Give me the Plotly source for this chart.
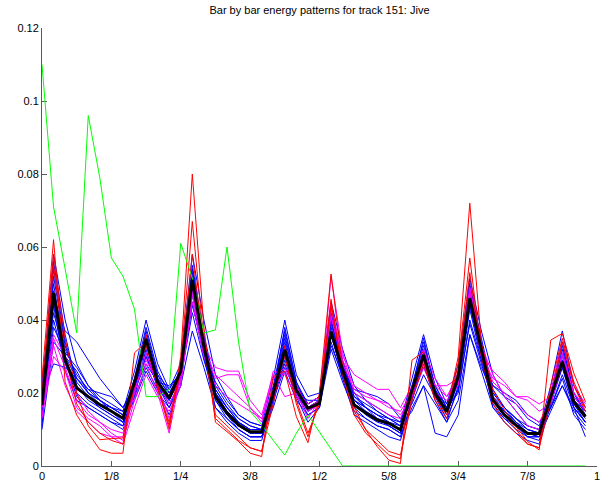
import plotly.graph_objects as go

# ---------------- data (48 sub-beat positions per bar) ----------------
n_steps = 48
x_tick_vals = [0, 0.125, 0.25, 0.375, 0.5, 0.625, 0.75, 0.875, 1]
x_tick_text = ["0", "1/8", "1/4", "3/8", "1/2", "5/8", "3/4", "7/8", "1"]
y_tick_vals = [0, 0.02, 0.04, 0.06, 0.08, 0.1, 0.12]
y_tick_text = ["0", "0.02", "0.04", "0.06", "0.08", "0.1", "0.12"]

blue_bars = [
    [.020,.058,.040,.028,.022,.019,.017,.015, .026,.040,.028,.021,.028,.058,.040,.025, .019,.014,.012,.011,.024,.040,.025,.019, .020,.045,.032,.022,.018,.015,.013,.012, .024,.036,.024,.017,.028,.0514,.037,.025, .019,.015,.011,.010,.022,.037,.022,.016],
    [.015,.052,.033,.024,.020,.018,.016,.014, .024,.038,.026,.020,.026,.055,.036,.022, .017,.013,.011,.010,.022,.037,.023,.017, .019,.042,.029,.019,.016,.014,.012,.010, .022,.034,.022,.016,.026,.049,.035,.021, .016,.013,.010,.009,.020,.033,.020,.015],
    [.012,.046,.037,.034,.029,.024,.020,.016, .022,.030,.022,.016,.024,.048,.031,.018, .014,.011,.009,.009,.019,.030,.020,.015, .017,.036,.025,.017,.015,.013,.012,.010, .019,.029,.019,.014,.023,.044,.030,.018, .015,.012,.009,.009,.018,.027,.017,.012],
    [.010,.034,.030,.026,.020,.017,.015,.012, .018,.026,.020,.016,.022,.037,.027,.016, .013,.010,.008,.008,.016,.026,.018,.014, .016,.032,.023,.015,.013,.011,.010,.008, .016,.022,.017,.012,.018,.036,.026,.016, .013,.011,.008,.008,.015,.022,.015,.011],
    [.018,.056,.036,.022,.018,.016,.014,.012, .022,.036,.024,.018,.025,.054,.035,.020, .015,.011,.009,.009,.020,.034,.021,.016, .018,.040,.028,.018,.015,.013,.011,.009, .020,.032,.020,.015,.025,.048,.033,.019, .015,.012,.009,.008,.019,.031,.018,.014],
    [.022,.050,.030,.020,.017,.015,.013,.011, .021,.034,.023,.019,.026,.052,.034,.019, .014,.010,.008,.008,.019,.033,.021,.015, .017,.038,.026,.017,.014,.012,.011,.009, .021,.031,.021,.016,.024,.047,.032,.018, .014,.011,.008,.008,.019,.029,.017,.013],
    [.013,.044,.026,.018,.016,.014,.012,.010, .019,.032,.021,.014,.022,.050,.030,.016, .012,.009,.007,.007,.018,.032,.019,.012, .016,.037,.024,.014,.012,.010,.008,.007, .018,.028,.018,.012,.022,.045,.030,.016, .012,.009,.007,.006,.017,.029,.016,.012],
    [.016,.040,.028,.021,.019,.017,.016,.014, .020,.030,.022,.018,.025,.045,.030,.020, .016,.013,.011,.010,.019,.028,.019,.016, .017,.034,.024,.018,.016,.014,.013,.011, .015,.022,.009,.008,.014,.036,.027,.020, .016,.013,.011,.010,.016,.024,.014,.010],
    [.020,.048,.032,.025,.021,.018,.016,.014, .023,.035,.025,.021,.026,.050,.033,.021, .016,.012,.010,.010,.021,.036,.022,.017, .019,.040,.027,.020,.018,.016,.014,.012, .022,.030,.020,.017,.024,.046,.031,.022, .019,.017,.013,.011,.019,.030,.018,.015],
    [.011,.054,.034,.023,.019,.016,.014,.012, .023,.037,.025,.019,.027,.053,.035,.021, .016,.012,.009,.009,.020,.038,.023,.016, .018,.041,.028,.020,.016,.013,.011,.009, .021,.035,.021,.015,.025,.050,.034,.020, .016,.012,.009,.008,.020,.034,.020,.014],
    [.017,.042,.030,.024,.021,.020,.019,.016, .021,.028,.023,.022,.025,.044,.032,.023, .018,.014,.012,.011,.018,.027,.020,.018, .018,.033,.025,.021,.020,.019,.017,.013, .017,.025,.019,.016,.020,.040,.029,.022, .020,.018,.014,.012,.016,.022,.016,.012],
    [.024,.045,.029,.019,.016,.014,.012,.011, .020,.031,.022,.017,.023,.047,.031,.018, .013,.010,.008,.008,.017,.031,.020,.014, .016,.036,.025,.016,.013,.011,.010,.008, .018,.030,.019,.013,.021,.043,.029,.017, .013,.010,.008,.007,.017,.027,.016,.008],
    [.014,.038,.031,.027,.022,.018,.015,.013, .021,.033,.024,.020,.025,.049,.032,.020, .015,.012,.010,.010,.020,.035,.022,.017, .019,.039,.027,.019,.017,.015,.013,.011, .021,.033,.022,.016,.024,.048,.033,.019, .016,.013,.010,.009,.018,.032,.019,.015],
    [.019,.028,.027,.024,.020,.018,.016,.015, .019,.027,.021,.018,.024,.042,.029,.019, .015,.012,.010,.010,.018,.029,.020,.016, .018,.036,.026,.018,.016,.014,.012,.011, .019,.027,.020,.015,.021,.039,.028,.018, .015,.012,.010,.009,.016,.025,.016,.012],
]

magenta_bars = [
    [.016,.036,.030,.020,.015,.012,.009,.007, .018,.028,.020,.009,.025,.048,.033,.027, .026,.026,.018,.014,.025,.019,.020,.013, .018,.044,.030,.025,.023,.021,.021,.016, .022,.028,.022,.022,.024,.048,.031,.026, .023,.019,.019,.017,.019,.030,.020,.016],
    [.014,.030,.026,.016,.013,.011,.008,.006, .016,.025,.019,.015,.022,.047,.031,.024, .025,.025,.016,.013,.021,.026,.022,.016, .018,.041,.028,.021,.019,.018,.017,.014, .019,.027,.020,.018,.022,.046,.030,.024, .022,.019,.018,.015,.017,.028,.019,.015],
    [.016,.033,.022,.015,.012,.009,.008,.008, .020,.031,.022,.013,.024,.049,.032,.025, .022,.019,.016,.012,.026,.025,.019,.015, .017,.052,.031,.020,.018,.016,.014,.013, .021,.030,.022,.019,.025,.049,.033,.025, .019,.015,.011,.010,.020,.034,.022,.017],
    [.013,.035,.027,.018,.014,.012,.010,.009, .021,.029,.023,.017,.023,.045,.030,.022, .019,.017,.015,.013,.024,.027,.021,.017, .019,.043,.029,.022,.020,.018,.016,.015, .020,.032,.024,.019,.023,.047,.032,.023, .020,.017,.014,.012,.018,.031,.020,.016],
]

red_bars = [
    [.024,.062,.023,.014,.009,.0045,.0035,.0035, .031,.034,.022,.011,.030,.080,.038,.012, .0094,.0067,.0035,.0026,.0245,.026,.0135,.0064, .020,.0526,.0272,.0162,.0099,.0053,.0016,.0007, .029,.0313,.020,.015,.030,.072,.0336,.0208, .0153,.0108,.0067,.0044,.0345,.0363,.0254,.0176],
    [.020,.058,.035,.020,.011,.0072,.0075,.0077, .024,.033,.022,.010,.028,.067,.034,.014, .011,.008,.005,.004,.020,.030,.017,.008, .018,.0457,.025,.014,.009,.006,.003,.002, .020,.029,.019,.014,.028,.057,.031,.019, .014,.010,.006,.005,.022,.035,.023,.016],
    [.018,.055,.030,.017,.012,.009,.007,.006, .022,.036,.021,.012,.026,.058,.033,.013, .010,.007,.005,.004,.017,.033,.018,.009, .017,.044,.026,.015,.010,.007,.004,.003, .018,.028,.018,.013,.026,.053,.030,.017, .012,.009,.006,.005,.018,.034,.022,.015],
]

green_bar = [.110,.071,.054,.0365,.096,.079,.057,.052, .043,.019,.019,.021,.061,.0515,.0364,.0373,
             .060,.034,.015,.0113,.007,.003,.009,.014, .0093,.0046,0,0,0,0,0,0,
             0,0,0,0,0,0,0,0, 0,0,0,0,0,0,0,0]

mean_bar = [.0167,.0474,.029,.0214,.019,.0168,.015,.0131, .023,.0348,.023,.0186,.026,.051,.0327,.019,
            .0145,.0112,.0094,.0094,.020,.0318,.0208,.0158, .0172,.0368,.0263,.0167,.0145,.0126,.0117,.0099,
            .0208,.0304,.0199,.0149,.0245,.046,.0318,.0181, .014,.0112,.0089,.0089,.019,.0286,.0176,.0135]


def positions(vals):
    return [i / n_steps for i in range(len(vals))]


fig = go.Figure()

def add(vals, color, width):
    fig.add_trace(go.Scatter(x=positions(vals), y=vals, mode="lines",
                             line=dict(color=color, width=width),
                             hoverinfo="skip", showlegend=False))

for v in blue_bars:
    add(v, "#0000ff", 1)
for v in magenta_bars:
    add(v, "#ff00ff", 1)
for v in red_bars:
    add(v, "#ff0000", 1)
add(green_bar, "#00ff00", 1)
add(mean_bar, "#000000", 3)

font_family = "Liberation Sans, Arial, Helvetica, sans-serif"
axis_common = dict(showgrid=False, zeroline=False, showline=True, linecolor="#5a5a5a",
                   linewidth=1, ticks="inside", ticklen=5, tickcolor="#5a5a5a",
                   tickwidth=1, mirror=False, layer="below traces", automargin=False,
                   tickfont=dict(family=font_family, size=11, color="#000000"))

fig.update_layout(
    width=604, height=483,
    margin=dict(l=42, r=7, t=28, b=17, pad=0, autoexpand=False),
    paper_bgcolor="white", plot_bgcolor="white",
    title=dict(text="Bar by bar energy patterns for track 151: Jive",
               x=0.5, xref="paper", xanchor="center",
               y=1 - 10 / 483, yref="container", yanchor="middle",
               font=dict(family=font_family, size=11, color="#000000")),
    xaxis=dict(range=[0, 1], tickvals=x_tick_vals, ticktext=x_tick_text, **axis_common),
    yaxis=dict(range=[0, 0.12], tickvals=y_tick_vals, ticktext=y_tick_text, **axis_common),
)

fig.write_html("out.html")
